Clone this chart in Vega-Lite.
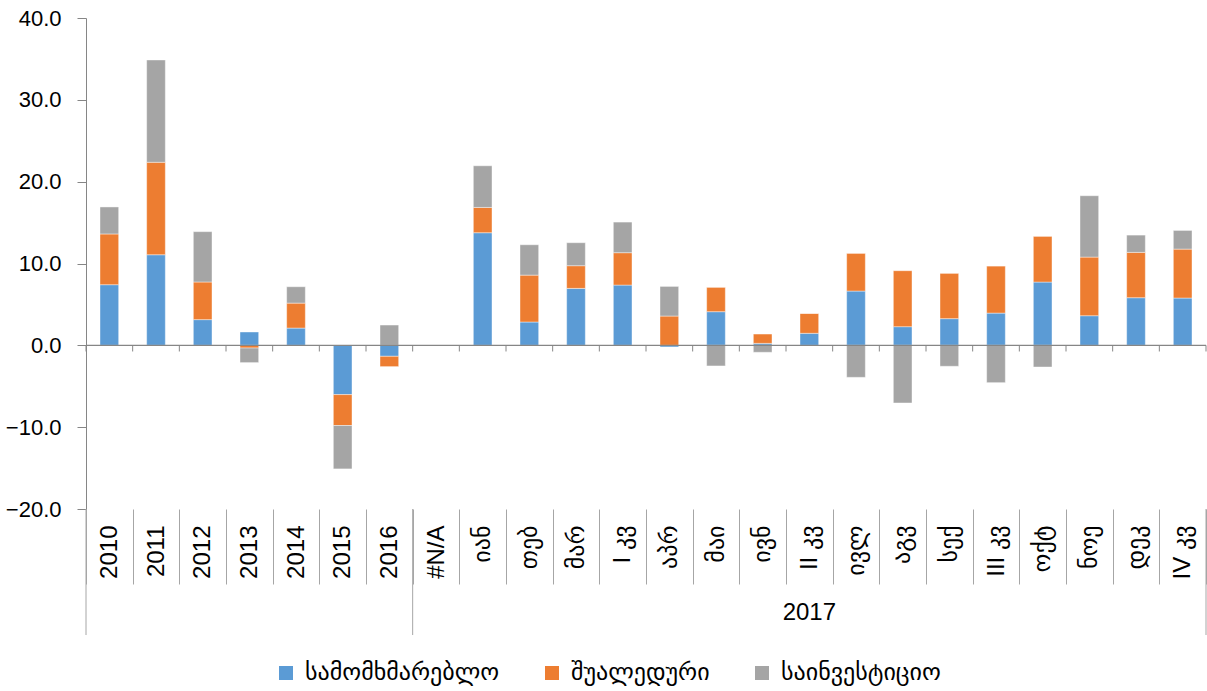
{
  "$schema": "https://vega.github.io/schema/vega-lite/v6.json",
  "autosize": {"type": "none"},
  "padding": {"left": 86, "top": 18, "right": 1, "bottom": 182},
  "width": 1120,
  "height": 491,
  "background": "white",
  "config": {
    "view": {"stroke": null},
    "font": "Liberation Sans, DejaVu Sans",
    "axis": {"labelFont": "Liberation Sans, DejaVu Sans", "grid": false}
  },
  "datasets": {
    "main": [
      {"cat": "2010", "სამომხმარებლო": 7.41, "შუალედური": 6.2, "საინვესტიციო": 3.3},
      {"cat": "2011", "სამომხმარებლო": 11.07, "შუალედური": 11.3, "საინვესტიციო": 12.5},
      {"cat": "2012", "სამომხმარებლო": 3.14, "შუალედური": 4.6, "საინვესტიციო": 6.15},
      {"cat": "2013", "სამომხმარებლო": 1.63, "შუალედური": -0.33, "საინვესტიციო": -1.78},
      {"cat": "2014", "სამომხმარებლო": 2.11, "შუალედური": 3.05, "საინვესტიციო": 2.0},
      {"cat": "2015", "სამომხმარებლო": -6.02, "შუალედური": -3.78, "საინვესტიციო": -5.3},
      {"cat": "2016", "სამომხმარებლო": -1.34, "შუალედური": -1.26, "საინვესტიციო": 2.48},
      {"cat": "#N/A", "სამომხმარებლო": null, "შუალედური": null, "საინვესტიციო": null},
      {"cat": "იან", "სამომხმარებლო": 13.76, "შუალედური": 3.09, "საინვესტიციო": 5.09},
      {"cat": "თებ", "სამომხმარებლო": 2.85, "შუალედური": 5.73, "საინვესტიციო": 3.71},
      {"cat": "მარ", "სამომხმარებლო": 6.96, "შუალედური": 2.77, "საინვესტიციო": 2.81},
      {"cat": "I კვ", "სამომხმარებლო": 7.36, "შუალედური": 3.96, "საინვესტიციო": 3.74},
      {"cat": "აპრ", "სამომხმარებლო": -0.2, "შუალედური": 3.58, "საინვესტიციო": 3.62},
      {"cat": "მაი", "სამომხმარებლო": 4.11, "შუალედური": 2.97, "საინვესტიციო": -2.52},
      {"cat": "ივნ", "სამომხმარებლო": 0.24, "შუალედური": 1.14, "საინვესტიციო": -0.85},
      {"cat": "II კვ", "სამომხმარებლო": 1.47, "შუალედური": 2.44, "საინვესტიციო": 0},
      {"cat": "ივლ", "სამომხმარებლო": 6.63, "შუალედური": 4.6, "საინვესტიციო": -3.91},
      {"cat": "აგვ", "სამომხმარებლო": 2.28, "შუალედური": 6.84, "საინვესტიციო": -7.04},
      {"cat": "სექ", "სამომხმარებლო": 3.26, "შუალედური": 5.53, "საინვესტიციო": -2.56},
      {"cat": "III კვ", "სამომხმარებლო": 3.94, "შუალედური": 5.74, "საინვესტიციო": -4.56},
      {"cat": "ოქტ", "სამომხმარებლო": 7.73, "შუალედური": 5.58, "საინვესტიციო": -2.65},
      {"cat": "ნოე", "სამომხმარებლო": 3.62, "შუალედური": 7.16, "საინვესტიციო": 7.5},
      {"cat": "დეკ", "სამომხმარებლო": 5.82, "შუალედური": 5.54, "საინვესტიციო": 2.11},
      {"cat": "IV კვ", "სამომხმარებლო": 5.78, "შუალედური": 5.98, "საინვესტიციო": 2.28}
    ],
    "one": [{}]
  },
  "data": {"name": "main"},
  "encoding": {
    "x": {
      "field": "cat",
      "type": "nominal",
      "sort": null,
      "scale": {
        "domain": ["2010", "2011", "2012", "2013", "2014", "2015", "2016", "#N/A", "იან", "თებ", "მარ", "I კვ", "აპრ", "მაი", "ივნ", "II კვ", "ივლ", "აგვ", "სექ", "III კვ", "ოქტ", "ნოე", "დეკ", "IV კვ"],
        "paddingInner": 0,
        "paddingOuter": 0
      },
      "axis": {
        "title": null,
        "orient": "bottom",
        "domain": false,
        "ticks": true,
        "tickBand": "extent",
        "tickSize": 75,
        "tickColor": "#a6a6a6",
        "tickWidth": 1,
        "labelAngle": -90,
        "labelAlign": "right",
        "labelBaseline": "middle",
        "labelPadding": -59,
        "labelFontSize": 24,
        "labelColor": "#000000",
        "labelFont": "Liberation Sans, DejaVu Sans"
      }
    }
  },
  "layer": [
    {
      "mark": {"type": "bar", "width": {"band": 0.4}, "stroke": "#ffffff", "strokeWidth": 0.6, "strokeOpacity": 0.7},
      "transform": [
        {"fold": ["სამომხმარებლო", "შუალედური", "საინვესტიციო"], "as": ["series", "value"]},
        {"filter": "isValid(datum.value)"}
      ],
      "encoding": {
        "y": {
          "field": "value",
          "type": "quantitative",
          "stack": "zero",
          "scale": {"domain": [-20, 40], "nice": false, "zero": false},
          "axis": {
            "title": null,
            "values": [-20, -10, 0, 10, 20, 30, 40],
            "format": ".1f",
            "domainColor": "#868686",
            "tickColor": "#868686",
            "tickSize": 9,
            "labelPadding": 16,
            "labelFontSize": 22,
            "labelColor": "#000000",
            "labelFont": "Liberation Sans, DejaVu Sans"
          }
        },
        "color": {
          "field": "series",
          "type": "nominal",
          "sort": ["სამომხმარებლო", "შუალედური", "საინვესტიციო"],
          "scale": {"domain": ["სამომხმარებლო", "შუალედური", "საინვესტიციო"], "range": ["#5b9bd5", "#ed7d31", "#a5a5a5"]},
          "legend": {
            "title": null,
            "orient": "none",
            "direction": "horizontal",
            "legendX": 188,
            "legendY": 643,
            "symbolType": "square",
            "symbolSize": 196,
            "symbolStrokeWidth": 0,
            "labelFont": "DejaVu Sans",
            "labelFontSize": 24,
            "labelLimit": 0,
            "labelColor": "#000000",
            "columnPadding": 40,
            "labelOffset": 7
          }
        },
        "order": {"field": "series_order", "type": "quantitative"}
      }
    },
    {
      "data": {"name": "one"},
      "mark": {"type": "rule", "color": "#868686", "strokeWidth": 1.2},
      "encoding": {
        "y": {"datum": 0, "type": "quantitative", "scale": {"domain": [-20, 40], "nice": false, "zero": false}},
        "x": {"value": 0},
        "x2": {"value": 1120}
      }
    },
    {
      "mark": {"type": "rule", "color": "#868686", "strokeWidth": 1},
      "encoding": {
        "x": {"field": "cat", "type": "nominal", "bandPosition": 0},
        "y": {"datum": 0, "type": "quantitative", "scale": {"domain": [-20, 40], "nice": false, "zero": false}},
        "y2": {"datum": -0.75}
      }
    },
    {
      "data": {"name": "one"},
      "mark": {"type": "rule", "color": "#868686", "strokeWidth": 1},
      "encoding": {
        "x": {"datum": "IV კვ", "type": "nominal", "bandPosition": 1},
        "y": {"datum": 0, "type": "quantitative", "scale": {"domain": [-20, 40], "nice": false, "zero": false}},
        "y2": {"datum": -0.75}
      }
    },
    {
      "data": {"name": "one"},
      "mark": {"type": "rule", "color": "#a6a6a6", "strokeWidth": 1},
      "encoding": {
        "x": {"datum": "2010", "type": "nominal", "bandPosition": 0},
        "y": {"datum": -20, "type": "quantitative", "scale": {"domain": [-20, 40], "nice": false, "zero": false}},
        "y2": {"datum": -35.4}
      }
    },
    {
      "data": {"name": "one"},
      "mark": {"type": "rule", "color": "#a6a6a6", "strokeWidth": 1},
      "encoding": {
        "x": {"datum": "#N/A", "type": "nominal", "bandPosition": 0},
        "y": {"datum": -20, "type": "quantitative", "scale": {"domain": [-20, 40], "nice": false, "zero": false}},
        "y2": {"datum": -35.4}
      }
    },
    {
      "data": {"name": "one"},
      "mark": {"type": "rule", "color": "#a6a6a6", "strokeWidth": 1},
      "encoding": {
        "x": {"datum": "IV კვ", "type": "nominal", "bandPosition": 1},
        "y": {"datum": -20, "type": "quantitative", "scale": {"domain": [-20, 40], "nice": false, "zero": false}},
        "y2": {"datum": -35.4}
      }
    },
    {
      "data": {"name": "one"},
      "mark": {"type": "text", "fontSize": 24, "fontWeight": "normal", "font": "Liberation Sans, DejaVu Sans", "color": "#000000", "baseline": "middle", "align": "center"},
      "encoding": {
        "x": {"datum": "II კვ", "type": "nominal", "bandPosition": 0.5},
        "y": {"datum": -32.7, "type": "quantitative", "scale": {"domain": [-20, 40], "nice": false, "zero": false}},
        "text": {"value": "2017"}
      }
    }
  ]
}
